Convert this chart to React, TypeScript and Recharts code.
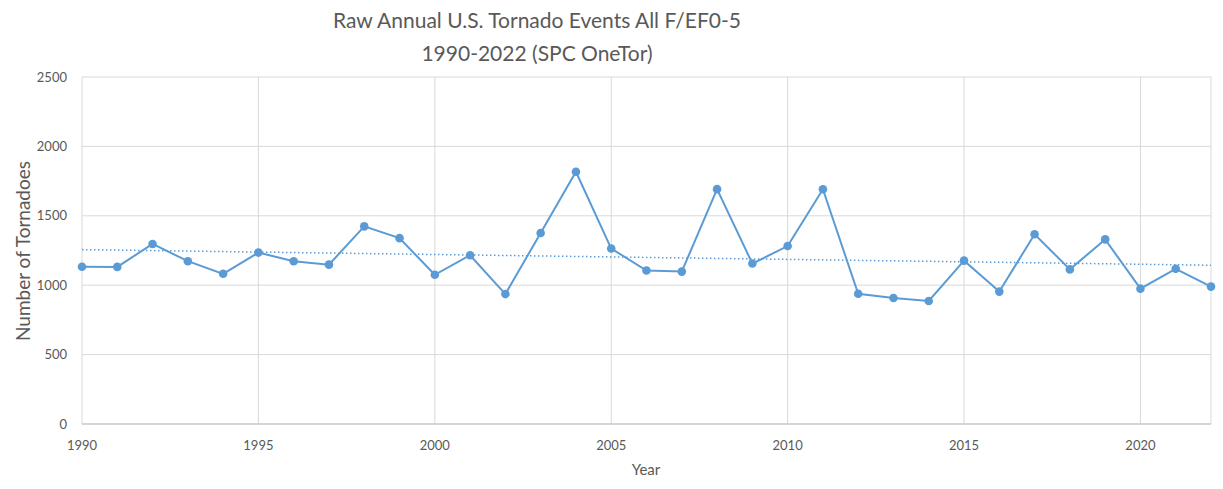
import React from 'react';
import { LineChart, Line, XAxis, YAxis, CartesianGrid, ReferenceLine } from 'recharts';

const YEARS = [
  1990, 1991, 1992, 1993, 1994, 1995, 1996, 1997, 1998, 1999, 2000, 2001, 2002, 2003, 2004, 2005, 2006,
  2007, 2008, 2009, 2010, 2011, 2012, 2013, 2014, 2015, 2016, 2017, 2018, 2019, 2020, 2021, 2022,
];
const TORNADOES = [
  1133, 1132, 1297, 1173, 1082, 1235, 1173, 1148, 1424, 1339, 1075, 1216, 936, 1376, 1817, 1264, 1106,
  1098, 1692, 1156, 1282, 1691, 938, 908, 886, 1177, 954, 1367, 1114, 1330, 975, 1118, 990,
];
const X_TICKS = [1990, 1995, 2000, 2005, 2010, 2015, 2020];
const Y_TICKS = [0, 500, 1000, 1500, 2000, 2500];

const data = YEARS.map((year, i) => ({ year, count: TORNADOES[i] }));

// linear trendline (least squares), like Excel's
const n = YEARS.length;
const mx = YEARS.reduce((a, b) => a + b, 0) / n;
const my = TORNADOES.reduce((a, b) => a + b, 0) / n;
let sxy = 0;
let sxx = 0;
YEARS.forEach((x, i) => {
  sxy += (x - mx) * (TORNADOES[i] - my);
  sxx += (x - mx) * (x - mx);
});
const slope = sxy / sxx;
const trendAt = (x: number) => my + slope * (x - mx);

const FONT = 'Lato, "Open Sans", sans-serif';
const GREY = '#595959';
const BLUE = '#5B9BD5';

export default function App() {
  return (
    <div style={{ position: 'absolute', left: 0, top: 0, width: 1223, height: 489, background: '#fff', fontFamily: FONT }}>
      <div
        style={{
          position: 'absolute',
          left: 0,
          width: 1074,
          top: 3,
          textAlign: 'center',
          color: GREY,
          fontSize: 21,
          lineHeight: '33px',
        }}
      >
        Raw Annual U.S. Tornado Events All F/EF0-5
        <br />
        1990-2022 (SPC OneTor)
      </div>
      <div
        style={{
          position: 'absolute',
          left: 22,
          top: 251,
          transform: 'translate(-50%, -50%) rotate(-90deg)',
          whiteSpace: 'nowrap',
          color: GREY,
          fontSize: 19,
        }}
      >
        Number of Tornadoes
      </div>
      <div
        style={{
          position: 'absolute',
          left: 646,
          top: 469,
          transform: 'translate(-50%, -50%)',
          color: GREY,
          fontSize: 15,
        }}
      >
        Year
      </div>
      <LineChart width={1223} height={489} data={data} margin={{ top: 77, right: 12, bottom: 35, left: 0 }}>
        <CartesianGrid stroke="#d9d9d9" strokeWidth={1} />
        <XAxis
          dataKey="year"
          type="number"
          domain={[1990, 2022]}
          ticks={X_TICKS}
          height={30}
          tickLine={false}
          axisLine={{ stroke: '#bfbfbf' }}
          tick={{ fill: GREY, fontSize: 13, fontFamily: FONT }}
          tickMargin={11}
        />
        <YAxis
          type="number"
          domain={[0, 2500]}
          ticks={Y_TICKS}
          width={82}
          tickLine={false}
          axisLine={false}
          tick={{ fill: GREY, fontSize: 13, fontFamily: FONT }}
          tickMargin={9}
        />
        <ReferenceLine
          segment={[
            { x: 1990, y: trendAt(1990) },
            { x: 2022, y: trendAt(2022) },
          ]}
          stroke={BLUE}
          strokeWidth={1.5}
          strokeDasharray="1.5 2.5"
          ifOverflow="visible"
        />
        <Line
          dataKey="count"
          stroke={BLUE}
          strokeWidth={2}
          dot={{ r: 4.3, fill: BLUE, stroke: BLUE, strokeWidth: 0 }}
          isAnimationActive={false}
        />
      </LineChart>
    </div>
  );
}
